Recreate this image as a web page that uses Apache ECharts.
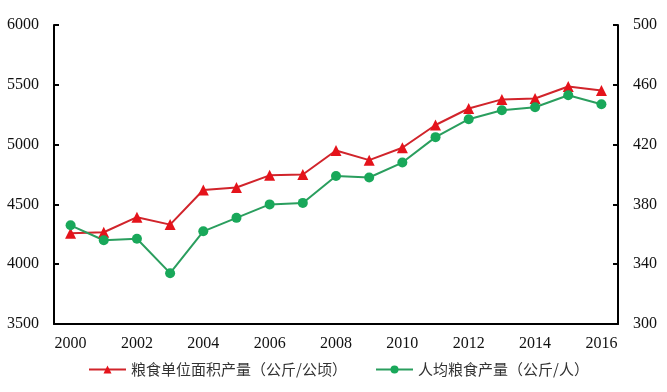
<!DOCTYPE html>
<html><head><meta charset="utf-8">
<script src="https://cdn.jsdelivr.net/npm/echarts@6/dist/echarts.min.js"></script>
<style>html,body{margin:0;padding:0;background:#fff}#c{width:667px;height:392px}</style>
</head><body><div id="c"></div>
<script>
const years = ['2000','2001','2002','2003','2004','2005','2006','2007','2008','2009','2010','2011','2012','2013','2014','2015','2016'];
const yieldPerHa = [4258,4267,4393,4331,4620,4641,4743,4750,4951,4870,4974,5164,5302,5378,5386,5486,5452];
const perCapita = [366,356,357,334,362,371,380,381,399,398,408,425,437,443,445,453,447];
const name1 = '粮食单位面积产量（公斤/公顷）';
const name2 = '人均粮食产量（公斤/人）';
const numFont = '"Liberation Serif","Times New Roman",serif';
const cjkFont = '"Noto Sans CJK SC",sans-serif';
const chart = echarts.init(document.getElementById('c'), null, {renderer:'canvas'});
chart.setOption({
  animation:false,
  backgroundColor:'#fff',
  grid:{left:54,right:49,top:25,bottom:68},
  legend:[
    {data:[name1],left:83,top:357,itemWidth:37,itemHeight:10,itemGap:10,
     textStyle:{fontFamily:cjkFont,fontSize:15,color:'#333'}},
    {data:[name2],left:370,top:357,itemWidth:37,itemHeight:10,itemGap:10,
     textStyle:{fontFamily:cjkFont,fontSize:15,color:'#333'}}
  ],
  xAxis:{type:'category',data:years,boundaryGap:true,
    axisLine:{lineStyle:{color:'#000',width:2}},
    axisTick:{show:false},
    axisLabel:{interval:1,margin:12,fontFamily:numFont,fontSize:16,color:'#111'}},
  yAxis:[
    {type:'value',min:3500,max:6000,interval:500,
     axisLine:{show:true,lineStyle:{color:'#000',width:2}},
     axisTick:{show:true,inside:true,length:5,lineStyle:{color:'#000',width:2}},
     splitLine:{show:false},
     axisLabel:{margin:15,fontFamily:numFont,fontSize:16,color:'#111',formatter:v=>String(v)}},
    {type:'value',min:300,max:500,interval:40,position:'right',
     axisLine:{show:true,lineStyle:{color:'#000',width:2}},
     axisTick:{show:true,inside:true,length:5,lineStyle:{color:'#000',width:2}},
     splitLine:{show:false},
     axisLabel:{margin:15,fontFamily:numFont,fontSize:16,color:'#111',formatter:v=>String(v)}}
  ],
  series:[
    {name:name1,type:'line',yAxisIndex:0,data:yieldPerHa,symbol:'triangle',symbolSize:11,
     lineStyle:{color:'#d1242b',width:2},itemStyle:{color:'#e5131b'}},
    {name:name2,type:'line',yAxisIndex:1,data:perCapita,symbol:'circle',symbolSize:10,
     lineStyle:{color:'#2a9e5e',width:2},itemStyle:{color:'#19a85a'}}
  ]
});
</script></body></html>
